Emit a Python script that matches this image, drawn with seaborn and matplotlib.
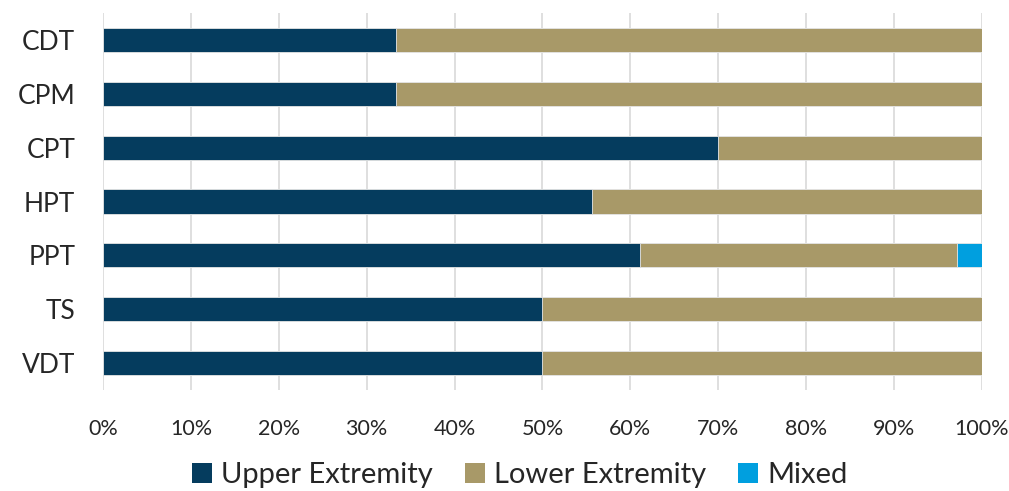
# recreate the stacked 100% horizontal bar chart
import pandas as pd
import numpy as np
import matplotlib
matplotlib.use("Agg")
import matplotlib.pyplot as plt
import seaborn as sns
from matplotlib.patches import Patch
from matplotlib.ticker import PercentFormatter

# data (percent of each test)
tests = ["CDT", "CPM", "CPT", "HPT", "PPT", "TS", "VDT"]
upper = [33.3, 33.3, 70.0, 55.6, 61.1, 50.0, 50.0]
lower = [66.7, 66.7, 30.0, 44.4, 36.1, 50.0, 50.0]
mixed = [0.0, 0.0, 0.0, 0.0, 2.8, 0.0, 0.0]

series = ["Upper Extremity", "Lower Extremity", "Mixed"]
colors = ["#053C5E", "#A89968", "#009FDF"]

df = pd.DataFrame({"Test": tests, "Upper": upper, "Lower": lower, "Mixed": mixed})
df["cum_upper"] = df["Upper"]
df["cum_lower"] = df["Upper"] + df["Lower"]
df["cum_mixed"] = df["cum_lower"] + df["Mixed"]

sns.set_style("white")
plt.rcParams["font.family"] = ["Lato", "DejaVu Sans"]

fig, ax = plt.subplots(figsize=(10.09, 4.91), dpi=100)
fig.subplots_adjust(left=0.1021, right=0.9732, top=0.9735, bottom=0.2057)

# draw the cumulative bars from the longest to the shortest so they stack
for col, c in zip(["cum_mixed", "cum_lower", "cum_upper"], colors[::-1]):
    sns.barplot(data=df, x=col, y="Test", orient="h", color=c, width=0.45,
                saturation=1, edgecolor="#E8E8E8", linewidth=0.6, ax=ax, zorder=3)

ax.set_xlim(0, 100)
ax.set_ylim(6.5, -0.5)
ax.set_xticks(np.arange(0, 101, 10))
ax.xaxis.set_major_formatter(PercentFormatter(decimals=0))
ax.grid(axis="x", color="#D9D9D9", linewidth=1.2, zorder=0)
ax.set_axisbelow(True)
for s in ax.spines.values():
    s.set_visible(False)
ax.tick_params(axis="x", length=0, pad=21, labelsize=15.5)
ax.tick_params(axis="y", length=0, pad=20, labelsize=19)
ax.set_xlabel(None)
ax.set_ylabel(None)

handles = [Patch(facecolor=c, edgecolor="none") for c in colors]
fig.legend(handles, series, loc="center", bbox_to_anchor=(0.515, 1 - 475 / 491),
           ncol=3, frameon=False, fontsize=21, handlelength=0.7, handleheight=0.7,
           handletextpad=0.3, columnspacing=1.1)

plt.savefig("out.png", dpi=100)
